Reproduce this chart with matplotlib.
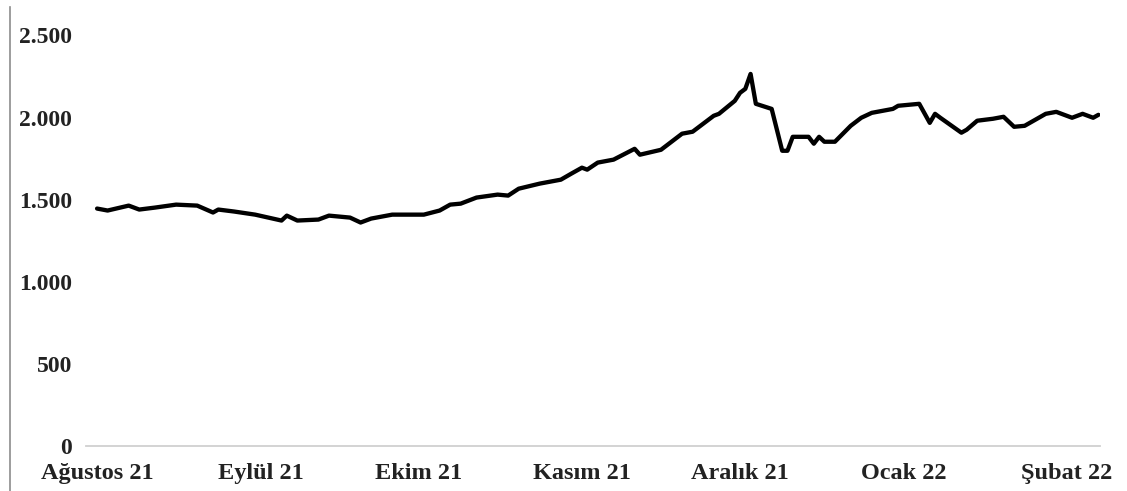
import matplotlib
matplotlib.use("Agg")
import matplotlib.pyplot as plt
import pandas as pd
from matplotlib.lines import Line2D

dates = [
    "2021-08-01", "2021-08-03", "2021-08-07", "2021-08-09", "2021-08-12", "2021-08-16",
    "2021-08-20", "2021-08-23", "2021-08-24", "2021-08-27", "2021-08-31", "2021-09-05",
    "2021-09-06", "2021-09-08", "2021-09-12", "2021-09-14", "2021-09-18", "2021-09-20",
    "2021-09-22", "2021-09-26", "2021-10-02", "2021-10-05", "2021-10-07", "2021-10-09",
    "2021-10-12", "2021-10-16", "2021-10-18", "2021-10-20", "2021-10-24", "2021-10-28",
    "2021-10-30", "2021-11-01", "2021-11-02", "2021-11-04", "2021-11-07", "2021-11-11",
    "2021-11-12", "2021-11-16", "2021-11-20", "2021-11-22", "2021-11-26", "2021-11-27",
    "2021-11-30", "2021-12-01", "2021-12-02", "2021-12-03", "2021-12-04", "2021-12-07",
    "2021-12-09", "2021-12-10", "2021-12-11", "2021-12-14", "2021-12-15", "2021-12-16",
    "2021-12-17", "2021-12-19", "2021-12-22", "2021-12-24", "2021-12-26", "2021-12-30",
    "2021-12-31", "2022-01-04", "2022-01-06", "2022-01-07", "2022-01-08", "2022-01-12",
    "2022-01-13", "2022-01-15", "2022-01-18", "2022-01-20", "2022-01-22", "2022-01-24",
    "2022-01-28", "2022-01-30", "2022-02-02", "2022-02-04", "2022-02-06", "2022-02-07",
]
values = [
    1446, 1434, 1464, 1440, 1452, 1470,
    1464, 1422, 1440, 1428, 1409, 1373,
    1403, 1373, 1379, 1403, 1391, 1361,
    1385, 1409, 1409, 1434, 1470, 1476,
    1513, 1531, 1525, 1567, 1598, 1622,
    1659, 1695, 1683, 1726, 1744, 1810,
    1774, 1804, 1902, 1914, 2011, 2023,
    2102, 2151, 2175, 2266, 2084, 2053,
    1798, 1798, 1883, 1883, 1841, 1883,
    1853, 1853, 1950, 1999, 2029, 2053,
    2072, 2084, 1968, 2023, 1999, 1908,
    1926, 1981, 1993, 2005, 1944, 1950,
    2023, 2035, 1999, 2023, 1999, 2017,
]
month_ticks = ["2021-08-01", "2021-09-01", "2021-10-01", "2021-11-01",
               "2021-12-01", "2022-01-01", "2022-02-01"]
month_labels = ["Ağustos 21", "Eylül 21", "Ekim 21", "Kasım 21",
                "Aralık 21", "Ocak 22", "Şubat 22"]
y_ticks = [0, 500, 1000, 1500, 2000, 2500]
y_labels = ["0", "500", "1.000", "1.500", "2.000", "2.500"]

plt.rcParams['font.family'] = ['Liberation Serif', 'DejaVu Serif']
plt.rcParams['font.weight'] = 'bold'

W, H = 1127, 491
fig = plt.figure(figsize=(W / 100, H / 100), dpi=100)
ax = fig.add_axes([86 / W, 45 / H, 1014 / W, 410.5 / H])

x = pd.to_datetime(dates)
ax.plot(x, values, color="black", lw=3.1, solid_joinstyle="round", solid_capstyle="round")

t0 = pd.Timestamp("2021-08-01")
ax.set_xlim(t0 - pd.Timedelta(days=2.1), t0 + pd.Timedelta(days=190.3))
ax.set_ylim(0, 2500)

ax.set_xticks(pd.to_datetime(month_ticks))
ax.set_xticklabels(month_labels, fontsize=17.5, fontweight='bold', color="#222222")
ax.set_yticks(y_ticks)
ax.set_yticklabels(y_labels, fontsize=17, fontweight='bold', color="#222222")
ax.tick_params(axis='both', length=0)
ax.tick_params(axis='x', pad=12)
ax.tick_params(axis='y', pad=10)

for s in ["top", "right", "left"]:
    ax.spines[s].set_visible(False)
ax.spines["bottom"].set_color("#d0d0d0")
ax.spines["bottom"].set_linewidth(1.3)

# left border of the chart frame
fig.add_artist(Line2D([10 / W, 10 / W], [0, 1 - 7 / H], transform=fig.transFigure,
                      color="#8c8c8c", lw=1.2))

fig.savefig("out.png", dpi=100, facecolor="white")
